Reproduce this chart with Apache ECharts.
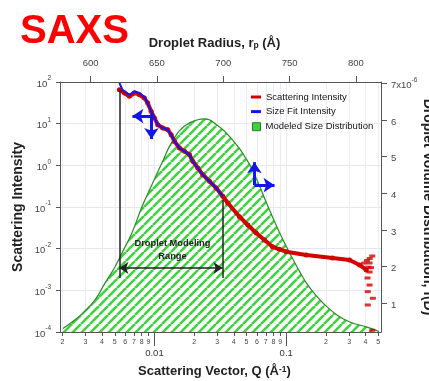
<!DOCTYPE html>
<html>
<head>
<meta charset="utf-8">
<script src="https://cdn.jsdelivr.net/npm/echarts@6/dist/echarts.min.js"></script>
<style>
html, body { margin: 0; padding: 0; background: #fff; }
#chart_saxs { width: 429px; height: 381px; }
</style>
</head>
<body>
<div id="chart_saxs"></div>
<script>
// scattering intensity (bottom Q axis, left log axis)
var qScatter = [0.00542, 0.00592, 0.00646, 0.00705, 0.00769, 0.00839, 0.00889, 0.00944, 0.0100, 0.0106,
    0.01156, 0.01262, 0.01339, 0.01419, 0.01549, 0.0169, 0.01845, 0.01954, 0.02133, 0.02328,
    0.02618, 0.02941, 0.03302, 0.03604, 0.0442, 0.0511, 0.0592, 0.0684, 0.0787, 0.0889,
    0.100, 0.1419, 0.2247, 0.3024, 0.3602, 0.405];
var iScatter = [65.3, 54.5, 45.4, 54.5, 49.5, 41.3, 31.3, 19.8, 13.7, 9.44,
    7.87, 7.16, 5.44, 3.78, 2.61, 2.17, 1.80, 1.25, 0.863, 0.596,
    0.414, 0.286, 0.181, 0.125, 0.0585, 0.0370, 0.0238, 0.01614, 0.0111, 0.00966,
    0.00845, 0.00705, 0.00597, 0.00535, 0.00406, 0.00308];
// noisy tail at high Q
var qNoise = [0.4498, 0.429, 0.42, 0.39, 0.41, 0.43, 0.44, 0.429, 0.414, 0.429, 0.416, 0.4546, 0.416, 0.45];
var iNoise = [0.00667, 0.00453, 0.0036, 0.0045, 0.0052, 0.0058, 0.0035, 0.00275, 0.00198, 0.00134, 0.00093, 0.000644, 0.000445, 0.00011];
// size fit over the modeling range
var qFit = [0.00542, 0.00571, 0.00646, 0.00705, 0.00769, 0.00839, 0.00889, 0.00944, 0.0100, 0.0106,
    0.01156, 0.01262, 0.01339, 0.01419, 0.01549, 0.0169, 0.01845, 0.01954, 0.02133, 0.02328,
    0.02618, 0.02941, 0.03302];
var iFit = [94.6, 65.3, 49.5, 59.9, 54.5, 43.6, 31.3, 19.8, 13.7, 9.44,
    7.87, 7.16, 5.44, 3.78, 2.61, 2.17, 1.80, 1.25, 0.863, 0.596,
    0.414, 0.286, 0.181];
// modeled size distribution (top radius axis, right axis x10^-6)
var radius = [579.1, 588.2, 594.2, 603.2, 610.8, 618.3, 623.6, 631.1, 638.7, 646.2,
    653.8, 662.1, 671.1, 680.2, 686.2, 695.2, 705.0, 717.8, 725.4, 732.9,
    745.0, 757.8, 765.3, 775.1, 785.7, 795.5, 808.4, 817.4];
var volumeDist = [0.31, 0.55, 0.74, 1.09, 1.55, 1.99, 2.37, 2.92, 3.63, 4.23,
    4.83, 5.45, 5.84, 6.00, 6.03, 5.86, 5.54, 4.91, 4.36, 3.71,
    2.73, 1.85, 1.42, 1.01, 0.68, 0.49, 0.35, 0.23];
// axis ticks
var qTicks = [0.002, 0.003, 0.004, 0.005, 0.006, 0.007, 0.008, 0.009, 0.01,
    0.02, 0.03, 0.04, 0.05, 0.06, 0.07, 0.08, 0.09, 0.1, 0.2, 0.3, 0.4, 0.5];
var qDecades = [0.01, 0.1];
var radiusTicks = [600, 650, 700, 750, 800];
var distTicks = [1, 2, 3, 4, 5, 6, 7];
// annotations
var rangeStart = 0.00542, rangeEnd = 0.0328;

var qMin = 0.00192, qMax = 0.524;
var font = "'Liberation Sans', Arial, sans-serif";

function zip(a, b) {
    var out = [];
    for (var i = 0; i < a.length; i++) out.push([a[i], b[i]]);
    return out;
}

// diagonal green hatch
var hatch = document.createElement('canvas');
hatch.width = 9;
hatch.height = 9;
var ctx = hatch.getContext('2d');
ctx.fillStyle = '#ffffff';
ctx.fillRect(0, 0, 9, 9);
ctx.strokeStyle = '#3fd23f';
ctx.lineWidth = 2.6;
for (var k = -1; k <= 1; k++) {
    ctx.beginPath();
    ctx.moveTo(k * 9, 9);
    ctx.lineTo(k * 9 + 9, 0);
    ctx.stroke();
}

var myChart = echarts.init(document.getElementById('chart_saxs'));
var axisLineStyle = {color: '#555', width: 1};
var blueArrow = {color: '#1414f0', width: 3, type: 'solid'};
var blackLine = {color: '#222', width: 1.5, type: 'solid'};

var options = {
    backgroundColor: '#fff',
    animation: false,
    title: {
        text: 'SAXS',
        left: 15,
        top: 7,
        textStyle: {color: '#ff0000', fontSize: 40, fontWeight: 'bold', fontFamily: font}
    },
    legend: [{
        orient: 'vertical',
        left: 246,
        top: 86,
        itemWidth: 10,
        itemHeight: 3,
        itemGap: 2.6,
        textStyle: {fontSize: 9.5, lineHeight: 12, color: '#111', fontFamily: font},
        data: [{name: 'Scattering Intensity', icon: 'rect'}, {name: 'Size Fit Intensity', icon: 'rect'}]
    }, {
        orient: 'vertical',
        left: 247,
        top: 115.7,
        itemWidth: 8,
        itemHeight: 8,
        textStyle: {fontSize: 9.5, lineHeight: 12, color: '#111', fontFamily: font},
        data: [{name: 'Modeled Size Distribution', icon: 'rect',
            itemStyle: {color: '#3fd23f', borderColor: '#2a7a2a', borderWidth: 1}}]
    }],
    grid: {left: 60, right: 48, top: 82, bottom: 49, containLabel: false, outerBoundsMode: 'none'},
    xAxis: [{
        // Q, log scale: carries the data
        type: 'log',
        logBase: 10,
        min: qMin,
        max: qMax,
        position: 'bottom',
        name: 'Scattering Vector, Q (Å{sup|-1})',
        nameLocation: 'middle',
        nameGap: 33,
        nameMoveOverlap: false,
        nameTextStyle: {fontSize: 13, fontWeight: 'bold', color: '#222', fontFamily: font, padding: [0, 12, 0, 0],
            rich: {sup: {fontSize: 8.5, fontWeight: 'bold', verticalAlign: 'top', color: '#222'}}},
        axisLine: {show: true, onZero: false, lineStyle: axisLineStyle},
        axisTick: {show: false},
        axisLabel: {show: false},
        splitLine: {show: false}
    }, {
        // droplet radius
        type: 'value',
        min: 576.9,
        max: 818.9,
        position: 'top',
        name: 'Droplet Radius, r{sub|p} (Å)',
        nameLocation: 'middle',
        nameGap: 32,
        nameMoveOverlap: false,
        nameTextStyle: {fontSize: 13, fontWeight: 'bold', color: '#222', fontFamily: font, padding: [0, 12, 0, 0],
            rich: {sub: {fontSize: 8.5, fontWeight: 'bold', verticalAlign: 'bottom', color: '#222'}}},
        axisLine: {show: true, onZero: false, lineStyle: axisLineStyle},
        axisTick: {show: true, customValues: radiusTicks, length: 6, lineStyle: axisLineStyle},
        axisLabel: {customValues: radiusTicks, margin: 14, fontSize: 9.5, color: '#444', fontFamily: font},
        splitLine: {show: false}
    }, {
        // minor tick marks and digits for the log Q axis
        type: 'value',
        min: Math.log10(qMin),
        max: Math.log10(qMax),
        position: 'bottom',
        axisLine: {show: false, onZero: false},
        axisTick: {show: true, customValues: qTicks.map(Math.log10), length: 4, lineStyle: axisLineStyle},
        axisLabel: {
            customValues: qTicks.map(Math.log10),
            margin: 7,
            fontFamily: font,
            formatter: function (v) {
                var q = Math.pow(10, v);
                var d = Math.round(q / Math.pow(10, Math.floor(v + 1e-9)));
                if (d === 1) return '{dec|' + Number(q.toPrecision(1)) + '}';
                return '{min|' + d + '}';
            },
            rich: {
                min: {fontSize: 7, color: '#444', fontFamily: font},
                dec: {fontSize: 9.5, color: '#333', padding: [9, 0, 0, 0], fontFamily: font}
            }
        },
        splitLine: {show: true, lineStyle: {color: '#ebebf5', width: 1}}
    }, {
        // long ticks at the decades
        type: 'value',
        min: Math.log10(qMin),
        max: Math.log10(qMax),
        position: 'bottom',
        axisLine: {show: false, onZero: false},
        axisTick: {show: true, customValues: qDecades.map(Math.log10), length: 14, lineStyle: axisLineStyle},
        axisLabel: {show: false},
        splitLine: {show: false}
    }],
    yAxis: [{
        type: 'log',
        logBase: 10,
        min: 0.0001,
        max: 100,
        splitNumber: 6,
        position: 'left',
        name: 'Scattering Intensity',
        nameLocation: 'middle',
        nameGap: 35,
        nameMoveOverlap: false,
        nameTextStyle: {fontSize: 14, fontWeight: 'bold', color: '#222', fontFamily: font},
        axisLine: {show: true, onZero: false, lineStyle: axisLineStyle},
        axisTick: {show: true, length: 4, lineStyle: axisLineStyle},
        axisLabel: {
            margin: 9,
            formatter: function (v) {
                return '{b|10}{s|' + Math.round(Math.log10(v)) + '}';
            },
            rich: {
                b: {fontSize: 9.5, color: '#444', verticalAlign: 'bottom', lineHeight: 14, fontFamily: font},
                s: {fontSize: 6.5, color: '#444', verticalAlign: 'top', fontFamily: font}
            }
        },
        splitLine: {show: true, lineStyle: {color: '#e6e6f2', width: 1}}
    }, {
        type: 'value',
        min: 0.217,
        max: 7.035,
        position: 'right',
        name: 'Droplet Volume Distribution, f(D)',
        nameLocation: 'middle',
        nameRotate: -90,
        nameGap: 40,
        nameMoveOverlap: false,
        nameTextStyle: {fontSize: 14, fontWeight: 'bold', color: '#222', fontFamily: font},
        axisLine: {show: true, onZero: false, lineStyle: axisLineStyle},
        axisTick: {show: true, customValues: distTicks, length: 6, lineStyle: axisLineStyle},
        axisLabel: {
            customValues: distTicks,
            margin: 10,
            formatter: function (v) {
                return v === 7 ? '{n|7x10}{s|-6}' : '{n|' + v + '}';
            },
            rich: {
                n: {fontSize: 9.5, color: '#444', verticalAlign: 'bottom', lineHeight: 14, fontFamily: font},
                s: {fontSize: 6.5, color: '#444', verticalAlign: 'top', fontFamily: font}
            }
        },
        splitLine: {show: false}
    }],
    series: [{
        name: 'Modeled Size Distribution',
        type: 'line',
        xAxisIndex: 1,
        yAxisIndex: 1,
        smooth: true,
        showSymbol: false,
        lineStyle: {color: '#2d8a2d', width: 1.2},
        itemStyle: {color: '#3fd23f'},
        areaStyle: {color: {image: hatch, repeat: 'repeat'}, opacity: 1, origin: 'start'},
        data: zip(radius, volumeDist)
    }, {
        name: 'Scattering Intensity',
        type: 'line',
        xAxisIndex: 0,
        yAxisIndex: 0,
        symbol: 'circle',
        symbolSize: 5,
        lineStyle: {color: '#d40000', width: 4},
        itemStyle: {color: '#d40000'},
        data: zip(qScatter, iScatter),
        z: 3
    }, {
        name: 'Scattering Intensity',
        type: 'scatter',
        xAxisIndex: 0,
        yAxisIndex: 0,
        symbol: 'rect',
        symbolSize: [6, 3],
        itemStyle: {color: '#d40000'},
        data: zip(qNoise, iNoise),
        z: 3
    }, {
        name: 'Size Fit Intensity',
        type: 'line',
        xAxisIndex: 0,
        yAxisIndex: 0,
        showSymbol: false,
        lineStyle: {color: '#1414f0', width: 2},
        itemStyle: {color: '#1414f0'},
        data: zip(qFit, iFit),
        z: 4,
        markLine: {
            silent: true,
            symbolSize: 10,
            label: {show: false},
            data: [
                [{coord: [rangeStart, 64.3], symbol: 'none', lineStyle: blackLine}, {coord: [rangeStart, 0.00198], symbol: 'none'}],
                [{coord: [rangeEnd, 0.147], symbol: 'none', lineStyle: blackLine}, {coord: [rangeEnd, 0.00198], symbol: 'none'}],
                [{coord: [rangeStart, 0.00344], symbol: 'arrow', symbolSize: 9, lineStyle: blackLine}, {coord: [rangeEnd, 0.00344], symbol: 'arrow', symbolSize: 9}],
                [{coord: [0.00966, 15.2], symbol: 'none', lineStyle: blueArrow}, {coord: [0.00681, 15.2], symbol: 'arrow', symbolSize: 11}],
                [{coord: [0.00949, 17.0], symbol: 'none', lineStyle: blueArrow}, {coord: [0.00949, 4.27], symbol: 'arrow', symbolSize: 11}],
                [{coord: [0.0574, 0.334], symbol: 'none', lineStyle: blueArrow}, {coord: [0.0574, 1.19], symbol: 'arrow', symbolSize: 11}],
                [{coord: [0.0574, 0.334], symbol: 'none', lineStyle: blueArrow}, {coord: [0.0815, 0.334], symbol: 'arrow', symbolSize: 11}]
            ]
        },
        markPoint: {
            silent: true,
            symbol: 'circle',
            symbolSize: 1,
            itemStyle: {color: 'rgba(0,0,0,0)'},
            label: {show: true, position: 'inside', fontSize: 9.3, fontWeight: 'bold', color: '#222',
                lineHeight: 13, fontFamily: font, formatter: 'Droplet Modeling\nRange'},
            data: [{coord: [0.0137, 0.0093]}]
        }
    }]
};
myChart.setOption(options);
</script>
</body>
</html>
